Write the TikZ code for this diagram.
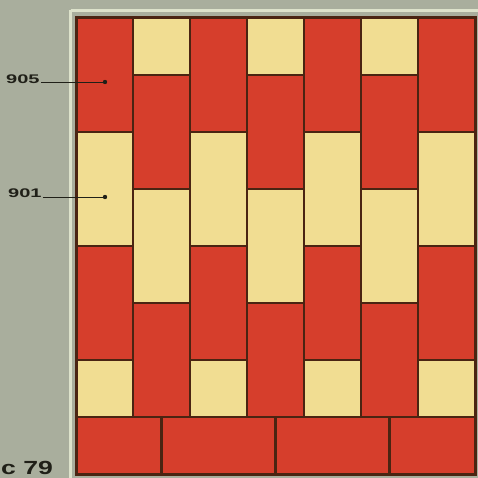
\documentclass[tikz,border=0pt]{standalone}
\usepackage{graphicx}
\usepackage{fontspec}
\setsansfont{Liberation Sans}
\begin{document}
\begin{tikzpicture}[x=1pt,y=-1pt,
  brk/.style={draw=brickline,line width=2.2pt},
  redb/.style={brk,fill=brickred},
  yelb/.style={brk,fill=brickyel},
  lbl/.style={font=\sffamily\bfseries\fontsize{12.5}{13}\selectfont,text=labeltext,inner sep=0pt},
  leader/.style={draw=labeltext,line width=0.9pt}]
\definecolor{bg}{HTML}{A9AE9D}
\definecolor{brickred}{HTML}{D63E2C}
\definecolor{brickyel}{HTML}{F1DD92}
\definecolor{brickline}{HTML}{4A2412}
\definecolor{lightline}{HTML}{DDE2CB}
\definecolor{labeltext}{HTML}{202018}
\useasboundingbox (0,0) rectangle (478,478);
\fill[bg] (0,0) rectangle (478,478);
% light outer frame line
\draw[lightline,line width=2.5pt] (70.5,10.5) -- (478,10.5);
\draw[lightline,line width=2.5pt] (70.5,10.5) -- (70.5,478);
\def\xo{76}\def\yo{18}\def\u{57}
% columns
\foreach \k in {0,2,4,6}{
  \path[redb] (\xo+\k*\u,\yo) rectangle (\xo+\k*\u+\u,\yo+2*\u);
  \path[yelb] (\xo+\k*\u,\yo+2*\u) rectangle (\xo+\k*\u+\u,\yo+4*\u);
  \path[redb] (\xo+\k*\u,\yo+4*\u) rectangle (\xo+\k*\u+\u,\yo+6*\u);
  \path[yelb] (\xo+\k*\u,\yo+6*\u) rectangle (\xo+\k*\u+\u,\yo+7*\u);
}
\foreach \k in {1,3,5}{
  \path[yelb] (\xo+\k*\u,\yo) rectangle (\xo+\k*\u+\u,\yo+\u);
  \path[redb] (\xo+\k*\u,\yo+\u) rectangle (\xo+\k*\u+\u,\yo+3*\u);
  \path[yelb] (\xo+\k*\u,\yo+3*\u) rectangle (\xo+\k*\u+\u,\yo+5*\u);
  \path[redb] (\xo+\k*\u,\yo+5*\u) rectangle (\xo+\k*\u+\u,\yo+7*\u);
}
% bottom course
\foreach \a/\b in {0/1.5,1.5/3.5,3.5/5.5,5.5/7}{
  \path[redb] (\xo+\a*\u,\yo+7*\u) rectangle (\xo+\b*\u,\yo+8*\u);
}
% outer dark frame
\draw[brickline,line width=3pt] (\xo,\yo) rectangle (\xo+7*\u,\yo+8*\u);
% labels
\node[lbl,anchor=west] (l905) at (6,79) {\scalebox{1.6}[1]{905}};
\coordinate (p905) at (105,82);
\draw[leader] (l905.east) ++(1,3) -- (p905);
\fill[labeltext] (p905) circle (2.2);
\node[lbl,anchor=west] (l901) at (8,193) {\scalebox{1.6}[1]{901}};
\coordinate (p901) at (105,197);
\draw[leader] (l901.east) ++(1,4) -- (p901);
\fill[labeltext] (p901) circle (2.2);
\node[font=\sffamily\bfseries\fontsize{19}{20}\selectfont,text=labeltext,anchor=base west,inner sep=0pt] (fig) at (1,474) {\scalebox{1.4}[1]{c 79}};
\end{tikzpicture}
\end{document}
